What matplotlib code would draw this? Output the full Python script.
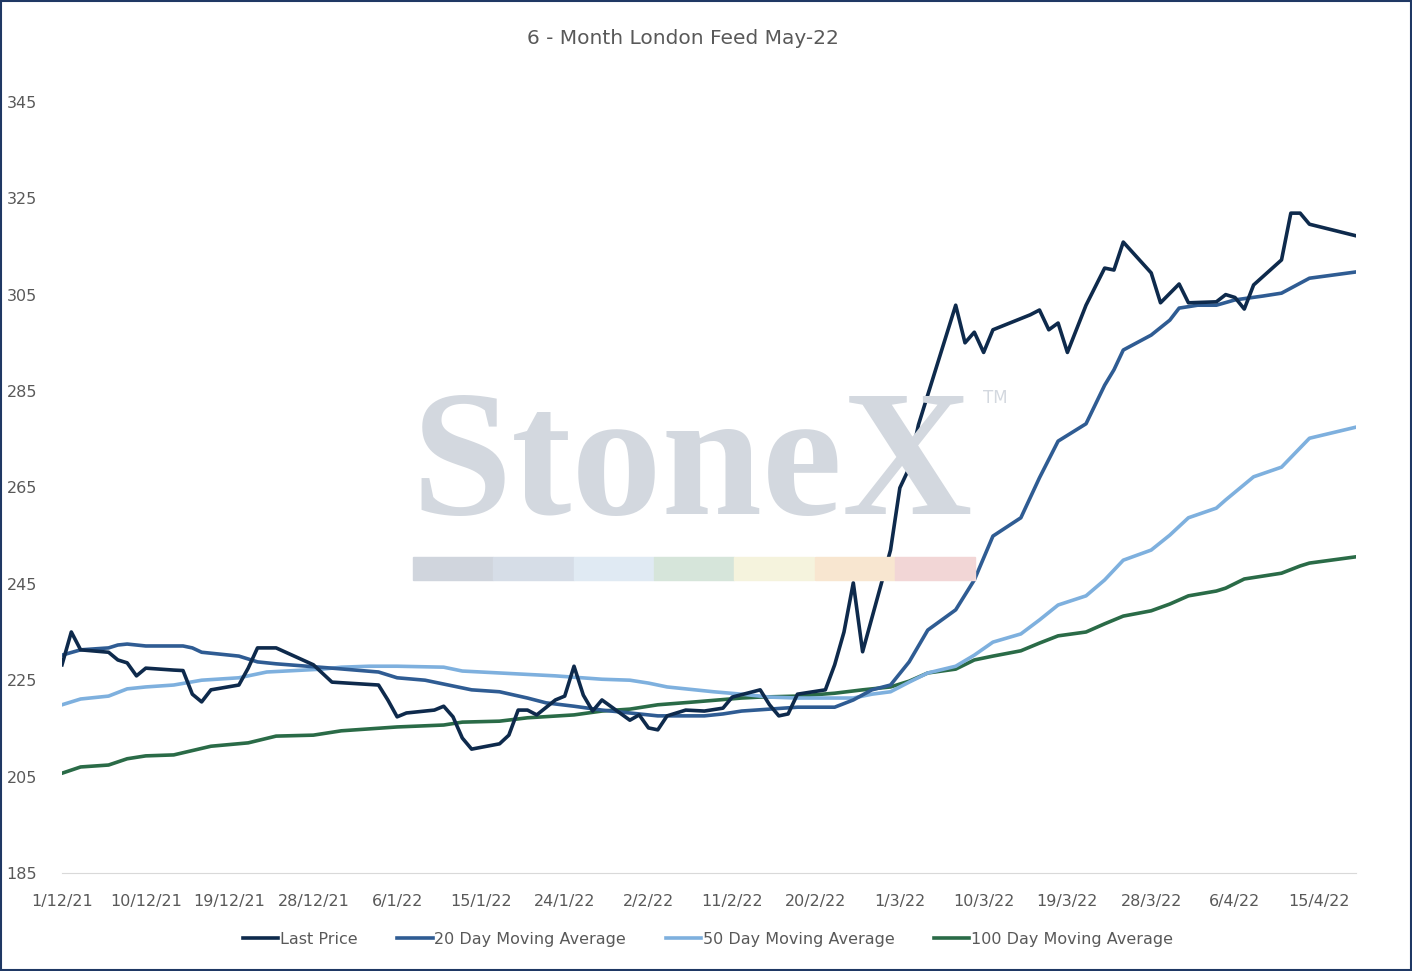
import matplotlib
matplotlib.use("Agg")
import matplotlib.pyplot as plt
import matplotlib.patches as mpatches
import datetime as dt

base = dt.date(2021, 12, 1)

lp_days = [0,1,2,5,6,7,8,9,12,13,14,15,16,19,20,21,23,27,29,34,35,36,37,40,41,42,43,44,47,48,49,50,51,53,54,55,56,57,58,61,62,63,64,65,67,69,71,72,75,76,77,78,79,82,83,84,85,86,89,90,91,92,93,96,97,98,99,100,104,105,106,107,108,110,112,113,114,117,118,120,121,124,125,126,127,128,131,132,133,134,139]
lp_vals = [228.2,235,231.3,230.8,229.2,228.6,225.9,227.5,227.1,227,222.1,220.5,223,224,227.5,231.7,231.7,228.2,224.6,224,220.9,217.4,218.2,218.8,219.6,217.4,213,210.7,211.8,213.6,218.8,218.8,217.8,220.9,221.7,227.9,221.9,218.6,220.9,216.7,217.8,215.1,214.7,217.6,218.8,218.6,219.2,221.5,223,219.9,217.6,218,222.1,223,228.2,235,245.2,230.9,252,264.9,269,278,284.2,302.8,295,297.2,293,297.7,300.8,301.8,297.7,299.1,293,302.8,310.5,310.1,315.9,309.5,303.3,307.2,303.3,303.5,305,304.4,302,307,312.2,321.9,321.9,319.6,317.2]

ma20_days = [0,2,5,6,7,9,13,14,15,19,21,23,29,34,36,39,41,44,47,50,52,55,58,62,64,69,71,73,76,79,83,85,87,89,91,93,96,98,100,103,105,107,110,112,113,114,117,119,120,122,124,126,129,131,134,139]
ma20_vals = [230.2,231.3,231.7,232.3,232.5,232.1,232.1,231.7,230.8,230,228.8,228.4,227.5,226.7,225.5,225,224.2,223,222.6,221.3,220.3,219.6,218.8,218,217.6,217.6,218,218.6,219,219.4,219.4,220.9,223,224,228.8,235.4,239.6,245.8,254.9,258.7,267,274.6,278.2,286.2,289.4,293.5,296.6,299.7,302.2,302.8,302.8,303.9,304.7,305.3,308.4,309.7]

ma50_days = [0,2,5,7,9,12,15,19,22,28,30,33,36,41,43,47,49,53,58,61,63,65,67,70,73,76,79,82,85,87,89,91,93,96,98,100,103,105,107,110,112,114,117,119,121,124,125,128,131,134,139]
ma50_vals = [219.9,221.1,221.7,223.2,223.6,224,225,225.5,226.7,227.3,227.7,227.9,227.9,227.7,226.9,226.5,226.3,225.9,225.2,225,224.4,223.6,223.2,222.6,222.1,221.5,221.3,221.3,221.3,222.1,222.6,224.6,226.5,227.9,230.2,232.9,234.6,237.5,240.6,242.5,245.8,249.9,252,255.1,258.7,260.7,262.4,267.2,269.2,275.2,277.5]

ma100_days = [0,2,5,7,9,12,16,20,23,27,30,36,41,43,47,50,55,58,61,64,68,73,75,79,83,86,89,91,93,96,98,100,103,105,107,110,112,114,117,119,121,124,125,127,131,133,134,139]
ma100_vals = [205.7,207,207.4,208.7,209.3,209.5,211.3,212,213.4,213.6,214.5,215.3,215.7,216.3,216.5,217.2,217.8,218.6,219,219.9,220.5,221.3,221.5,221.7,222.3,223,223.6,224.8,226.5,227.3,229.2,230,231.1,232.7,234.2,235,236.7,238.3,239.4,240.8,242.5,243.5,244.1,246,247.2,248.7,249.3,250.6]

tick_days = list(range(0, 136, 9))
tick_labels = [f"{(base+dt.timedelta(d)).day}/{(base+dt.timedelta(d)).month}/{(base+dt.timedelta(d)).year%100}" for d in tick_days]
yticks = list(range(185, 346, 20))

fig = plt.figure(figsize=(14.12, 9.71), dpi=100)
W, H = 1412, 971
ax = fig.add_axes([62/W, 1-873/H, (1356-62)/W, (873-70)/H])

# watermark
fig.text(692/W, 1-514/H, "StoneX", fontsize=130, family="Liberation Serif", weight="bold",
         color="#d3d8df", ha="center", va="baseline", zorder=0)
fig.text(983/W, 1-398/H, "TM", fontsize=12, color="#d3d8df", ha="left", va="center")
wm_cols = ["#d0d5dd", "#d6dde7", "#e0eaf3", "#d6e5da", "#f5f3dd", "#f8e6d0", "#f2d6d6"]
for i, c in enumerate(wm_cols):
    fig.patches.append(mpatches.Rectangle(((413+i*80.3)/W, 1-580/H), 80.3/W, 23/H,
                                          transform=fig.transFigure, color=c, zorder=0))
ax.set_facecolor("none")

lw = 2.6
ax.plot(ma100_days, ma100_vals, color="#2a6b47", lw=lw, label="100 Day Moving Average", zorder=3)
ax.plot(ma50_days, ma50_vals, color="#7eb0de", lw=lw, label="50 Day Moving Average", zorder=4)
ax.plot(ma20_days, ma20_vals, color="#2f5c93", lw=lw, label="20 Day Moving Average", zorder=5)
ax.plot(lp_days, lp_vals, color="#0e2a4c", lw=lw, label="Last Price", zorder=6)

ax.set_xlim(0, 139)
ax.set_ylim(185, 185 + (873-70)/4.82)
ax.set_xticks(tick_days)
ax.set_xticklabels(tick_labels, fontsize=11.5, color="#595959")
ax.set_yticks(yticks)
ax.set_yticklabels([str(v) for v in yticks], fontsize=11.5, color="#595959")
ax.tick_params(axis="x", length=0, pad=15)
ax.tick_params(axis="y", length=0, pad=18)
for s in ["top", "right", "left"]:
    ax.spines[s].set_visible(False)
ax.spines["bottom"].set_color("#d9d9d9")

fig.text(683/W, 1-38/H, "6 - Month London Feed May-22", fontsize=14.5, color="#595959",
         ha="center", va="center")

h, l = ax.get_legend_handles_labels()
order = [3, 2, 1, 0]
fig.legend([h[i] for i in order], [l[i] for i in order], loc="center", ncol=4,
           bbox_to_anchor=(708/W, 1-939/H), frameon=False, fontsize=11.5,
           handlelength=2.2, handletextpad=0.1, columnspacing=2.5,
           labelcolor="#595959")

fig.patches.append(mpatches.Rectangle((0.0007, 0.001), 0.9986, 0.998, transform=fig.transFigure,
                                      fill=False, edgecolor="#1f3864", lw=1.5))
fig.savefig("out.png", dpi=100)
